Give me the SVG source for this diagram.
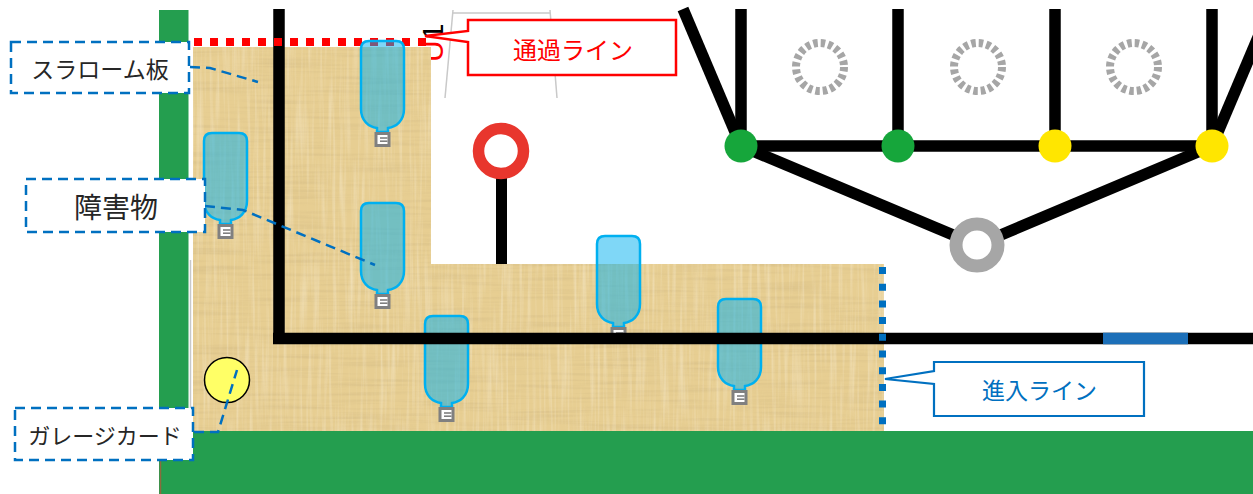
<svg xmlns="http://www.w3.org/2000/svg" width="1253" height="494" viewBox="0 0 1253 494">
  <style>
    .jp { font-family: "Noto Sans CJK JP", "Noto Sans", sans-serif; }
    .lbl { fill: #262626; text-anchor: middle; dominant-baseline: central; }
    .box { fill: #ffffff; stroke: #0070C0; stroke-width: 2.5; stroke-dasharray: 10 6; }
    .leader { fill: none; stroke: #0070C0; stroke-width: 2.5; stroke-dasharray: 10 6; }
    .track { stroke: #000000; stroke-width: 11.5; fill: none; }
    .field { fill: #249E4F; }
    .dashring { fill: none; stroke: #A6A6A6; stroke-width: 8; stroke-dasharray: 4.5 3.04; }
  </style>
  <defs>
    <filter id="fibersH" x="0" y="0" width="100%" height="100%">
      <feTurbulence type="fractalNoise" baseFrequency="0.012 0.3" numOctaves="2" seed="4"/>
      <feColorMatrix type="matrix" values="0 0 0 0 0.62  0 0 0 0 0.47  0 0 0 0 0.22  1.8 0 0 0 -0.8"/>
      <feComposite in2="SourceGraphic" operator="in"/>
    </filter>
    <filter id="fibersV" x="0" y="0" width="100%" height="100%">
      <feTurbulence type="fractalNoise" baseFrequency="0.3 0.012" numOctaves="2" seed="11"/>
      <feColorMatrix type="matrix" values="0 0 0 0 0.98  0 0 0 0 0.92  0 0 0 0 0.78  1.8 0 0 0 -0.8"/>
      <feComposite in2="SourceGraphic" operator="in"/>
    </filter>
    <!-- PET bottle obstacle with its cap -->
    <g id="bottle">
      <path d="M8,0 H35 Q43,0 43,8 V68 C43,80 35,86 27,87 V91 H16 V87 C8,86 0,80 0,68 V8 Q0,0 8,0 Z" fill="#00B0F0" fill-opacity="0.5" stroke="#00B0F0" stroke-width="2.5"/>
      <rect x="13.5" y="91" width="16" height="15" fill="#808080"/>
      <rect x="16.5" y="94" width="10" height="9" fill="#ffffff"/>
      <rect x="19" y="96.2" width="7.5" height="1.6" fill="#808080"/>
      <rect x="19" y="99.4" width="7.5" height="1.6" fill="#808080"/>
    </g>
  </defs>

  <rect width="1253" height="494" fill="#ffffff"/>

  <!-- gate frame and its marking behind the board -->
  <g id="gate-frame" fill="none" stroke="#C9C9C9" stroke-width="1.5">
    <path d="M453,10 L445,98"/>
    <path d="M453,13 H550"/>
    <path d="M550,10 L557,98"/>
  </g>
  <text id="gate-mark" transform="translate(443,62) rotate(-90)" font-family="Liberation Sans, sans-serif" font-size="30"><tspan fill="#FF0000">U</tspan><tspan fill="#000000">1</tspan></text>

  <!-- field -->
  <g id="field">
    <rect class="field" x="159" y="10" width="29.5" height="430"/>
    <rect class="field" x="159" y="431" width="1094" height="63"/>
    <line x1="160.5" y1="460" x2="160.5" y2="494" stroke="#8B6B3D" stroke-width="1.5"/>
    <line x1="190.5" y1="260" x2="190.5" y2="431" stroke="#C8C8C8" stroke-width="1.5"/>
  </g>

  <!-- slalom board -->
  <g id="slalom-board">
    <path d="M193,47 H431 V264 H884 V431 H193 Z" fill="#E7CE92"/>
    <path d="M193,47 H431 V264 H884 V431 H193 Z" fill="#000" filter="url(#fibersH)" opacity="0.55"/>
    <path d="M193,47 H431 V264 H884 V431 H193 Z" fill="#000" filter="url(#fibersV)" opacity="0.45"/>
  </g>

  <!-- red sign -->
  <g id="sign">
    <rect x="496" y="176" width="11" height="88" fill="#000000"/>
    <circle cx="501" cy="151" r="22.5" fill="#ffffff" stroke="#E8362D" stroke-width="11.5"/>
  </g>

  <!-- slalom wall line -->
  <g id="wall-vertical">
    <line class="track" x1="279" y1="9" x2="279" y2="344"/>
  </g>

  <!-- pass line -->
  <g id="pass-line">
    <line x1="194" y1="42" x2="427" y2="42" stroke="#FF0000" stroke-width="8" stroke-dasharray="8 8"/>
  </g>

  <!-- obstacles -->
  <g id="obstacles">
    <use href="#bottle" x="361" y="41"/>
    <use href="#bottle" x="204" y="133"/>
    <use href="#bottle" x="361" y="203"/>
    <use href="#bottle" x="425" y="316"/>
    <use href="#bottle" x="597" y="236"/>
    <use href="#bottle" x="718" y="299"/>
  </g>

  <!-- main track line -->
  <g id="wall-horizontal">
    <line class="track" x1="273" y1="338.5" x2="1253" y2="338.5"/>
    <line x1="1103" y1="338.5" x2="1188" y2="338.5" stroke="#1C6FB8" stroke-width="11.5"/>
  </g>

  <!-- entry line -->
  <g id="entry-line">
    <line x1="882.5" y1="267" x2="882.5" y2="431" stroke="#0070C0" stroke-width="7" stroke-dasharray="7 9.7"/>
  </g>

  <!-- parking area -->
  <g id="parking">
    <g class="track">
      <line x1="683" y1="9" x2="741" y2="146"/>
      <line x1="1212" y1="146" x2="1270" y2="9"/>
      <line x1="741" y1="9" x2="741" y2="146"/>
      <line x1="898" y1="9" x2="898" y2="146"/>
      <line x1="1055" y1="9" x2="1055" y2="146"/>
      <line x1="1212" y1="9" x2="1212" y2="146"/>
      <line x1="741" y1="146" x2="1212" y2="146"/>
      <line x1="741" y1="146" x2="977" y2="245"/>
      <line x1="1212" y1="146" x2="977" y2="245"/>
    </g>
    <circle class="dashring" cx="820" cy="67" r="24"/>
    <circle class="dashring" cx="978" cy="67" r="24"/>
    <circle class="dashring" cx="1134" cy="67" r="24"/>
    <circle cx="741" cy="146" r="16.5" fill="#16A63B"/>
    <circle cx="898" cy="146" r="16.5" fill="#16A63B"/>
    <circle cx="1055" cy="146" r="16.5" fill="#FFE600"/>
    <circle cx="1212" cy="146" r="16.5" fill="#FFE600"/>
    <circle cx="977" cy="245" r="21" fill="#ffffff" stroke="#A6A6A6" stroke-width="13"/>
  </g>

  <!-- garage card -->
  <g id="garage-card">
    <circle cx="227" cy="380" r="22.5" fill="#FFFF66" stroke="#000000" stroke-width="1.5"/>
  </g>

  <!-- connectors -->
  <g id="connectors">
    <path d="M468,20 H676 V75 H468 V42 L425,36 L468,31 Z" fill="#ffffff" stroke="#FF0000" stroke-width="2.5" stroke-linejoin="miter"/>
    <path d="M934,362 H1144 V416 H934 V384 L885,379 L934,371 Z" fill="#ffffff" stroke="#0070C0" stroke-width="2.2"/>
    <polyline class="leader" points="190,67 210,68 258,82"/>
    <polyline class="leader" points="205,206 243,210 375,265"/>
    <polyline class="leader" points="194,432 218,432 237,370"/>
  </g>

  <!-- callouts -->
  <g id="pass-label">
    <text class="jp" x="573" y="48" font-size="24" fill="#FF0000" text-anchor="middle" dominant-baseline="central">通過ライン</text>
  </g>
  <g id="entry-label">
    <text class="jp" x="1039.5" y="389" font-size="23" fill="#0070C0" text-anchor="middle" dominant-baseline="central">進入ライン</text>
  </g>

  <!-- explanation labels -->
  <g id="label-board">
    <rect class="box" x="11" y="42" width="178" height="51"/>
    <text class="jp lbl" x="100" y="67.5" font-size="23">スラローム板</text>
  </g>
  <g id="label-obstacle">
    <rect class="box" x="26" y="179" width="179" height="53"/>
    <text class="jp lbl" x="116" y="205.5" font-size="28">障害物</text>
  </g>
  <g id="label-garage">
    <rect class="box" x="15" y="408" width="178" height="52"/>
    <text class="jp lbl" x="105" y="434" font-size="22">ガレージカード</text>
  </g>
</svg>
